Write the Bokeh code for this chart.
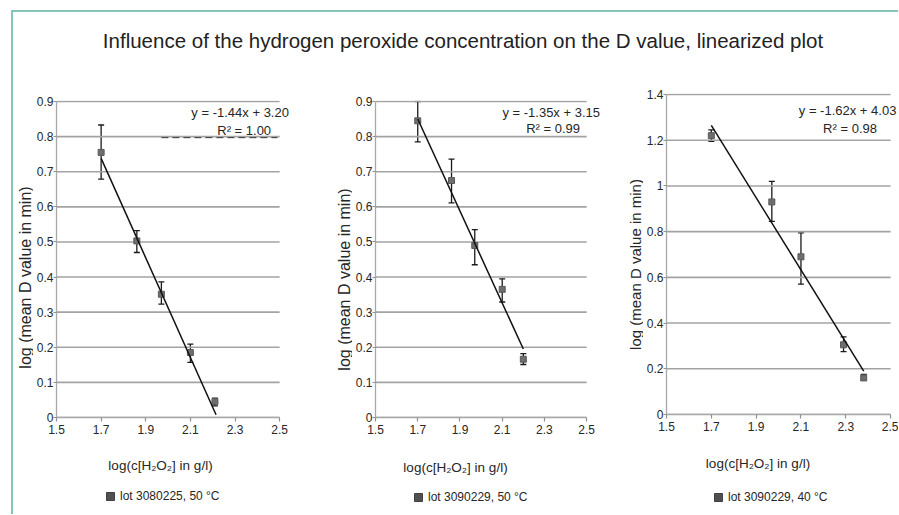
import math
from bokeh.plotting import figure
from bokeh.models import (Range1d, FixedTicker, Whisker, TeeHead, ColumnDataSource,
                          Legend, LegendItem, Label, Spacer)
from bokeh.layouts import row, column
from bokeh.embed import file_html
from bokeh.resources import INLINE

TITLE = "Influence of the hydrogen peroxide concentration on the D value, linearized plot"
X_LABEL = "log(c[H\u2082O\u2082] in g/l)"
Y_LABEL = "log (mean D value in min)"
X_TICKS = [1.5, 1.7, 1.9, 2.1, 2.3, 2.5]
Y_TICKS_A = [0, 0.1, 0.2, 0.3, 0.4, 0.5, 0.6, 0.7, 0.8, 0.9]
Y_TICKS_B = [0, 0.2, 0.4, 0.6, 0.8, 1.0, 1.2, 1.4]

# panel 1: lot 3080225, 50 °C
lot1_name = "lot 3080225, 50 \u00b0C"
lot1_x = [1.70, 1.86, 1.97, 2.10, 2.21]
lot1_y = [0.755, 0.503, 0.351, 0.185, 0.045]
lot1_lo = [0.679, 0.470, 0.323, 0.157, 0.033]
lot1_hi = [0.833, 0.532, 0.386, 0.209, 0.055]
lot1_fit_x = [1.70, 2.215]
lot1_fit_y = [0.738, 0.008]
lot1_eq = "y = -1.44x + 3.20"
lot1_r2 = "R\u00b2 = 1.00"

# panel 2: lot 3090229, 50 °C
lot2_name = "lot 3090229, 50 \u00b0C"
lot2_x = [1.70, 1.86, 1.97, 2.10, 2.20]
lot2_y = [0.845, 0.675, 0.490, 0.365, 0.166]
lot2_lo = [0.785, 0.611, 0.435, 0.329, 0.151]
lot2_hi = [0.900, 0.736, 0.535, 0.395, 0.182]
lot2_fit_x = [1.70, 2.20]
lot2_fit_y = [0.850, 0.195]
lot2_eq = "y = -1.35x + 3.15"
lot2_r2 = "R\u00b2 = 0.99"

# panel 3: lot 3090229, 40 °C
lot3_name = "lot 3090229, 40 \u00b0C"
lot3_x = [1.70, 1.97, 2.10, 2.29, 2.38]
lot3_y = [1.220, 0.930, 0.690, 0.305, 0.160]
lot3_lo = [1.195, 0.845, 0.570, 0.275, 0.150]
lot3_hi = [1.245, 1.020, 0.795, 0.340, 0.175]
lot3_fit_x = [1.70, 2.38]
lot3_fit_y = [1.265, 0.190]
lot3_eq = "y = -1.62x + 4.03"
lot3_r2 = "R\u00b2 = 0.98"

FONT = "Liberation Sans"
TXT = "#262626"
GRID = "#a3a3a3"
TEAL = "#84c7ba"
ROW_H = 377


def blank(width, height):
    f = figure(width=width, height=height, x_range=Range1d(0, 1), y_range=Range1d(0, 1),
               output_backend="svg", toolbar_location=None, min_border=0,
               x_axis_location=None, y_axis_location=None)
    f.outline_line_color = None
    f.xgrid.visible = False
    f.ygrid.visible = False
    return f


def make_main(xs, ys, lo, hi, fx, fy, y_end, y_ticks, eq, r2, eq_pos, r2_pos,
              bl, w1, extra, br, bt, h1, bb):
    px_y = h1 / y_end
    p = figure(width=bl + w1 + extra + br, height=bt + h1 + 1 + bb,
               x_range=Range1d(X_TICKS[0], X_TICKS[-1] + extra / w1),
               y_range=Range1d(0, y_end + 1 / px_y),
               output_backend="svg", toolbar_location=None,
               min_border_left=bl, min_border_right=br, min_border_top=bt,
               min_border_bottom=bb)
    p.outline_line_color = None
    p.xgrid.visible = False
    p.ygrid.visible = False

    # horizontal grid lines, limited to the axis extent
    p.segment(x0=[X_TICKS[0]] * len(y_ticks), x1=[X_TICKS[-1]] * len(y_ticks),
              y0=y_ticks, y1=y_ticks, line_color=GRID, line_width=1.6)

    for ax in (p.xaxis[0], p.yaxis[0]):
        ax.axis_line_color = "#a8a8a8"
        ax.axis_line_width = 1.3
        ax.major_tick_line_color = "#909090"
        ax.major_tick_line_width = 1.2
        ax.minor_tick_line_color = None
        ax.major_tick_in = 0
        ax.major_label_text_font = FONT
        ax.major_label_text_font_size = "12px"
        ax.major_label_text_color = TXT

    xa = p.xaxis[0]
    xa.ticker = FixedTicker(ticks=X_TICKS)
    xa.bounds = (X_TICKS[0], X_TICKS[-1])
    xa.major_tick_out = 4
    xa.major_label_standoff = 3

    ya = p.yaxis[0]
    ya.ticker = FixedTicker(ticks=y_ticks)
    ya.bounds = (0, y_end)
    ya.major_tick_out = 3
    ya.major_label_standoff = 0
    ya.major_label_overrides = {0: "0"}

    src = ColumnDataSource(dict(x=xs, y=ys, lo=lo, hi=hi))
    p.scatter("x", "y", source=src, marker="square", size=6,
              fill_color="#6e6e6e", line_color="#5a5a5a")
    wh = Whisker(base="x", upper="hi", lower="lo", source=src, dimension="height",
                 line_color="#1a1a1a", line_width=1.3,
                 upper_head=TeeHead(size=6, line_color="#1a1a1a", line_width=1.3),
                 lower_head=TeeHead(size=6, line_color="#1a1a1a", line_width=1.3))
    p.add_layout(wh)
    p.line(fx, fy, line_color="#111111", line_width=1.5)

    for t, pos in ((eq, eq_pos), (r2, r2_pos)):
        p.add_layout(Label(x=pos[0], y=pos[1], text=t, text_align="center",
                           text_baseline="middle", text_font=FONT,
                           text_font_size="13px", text_color=TXT))
    return p


def make_strip(width, sx, sy, size):
    s = blank(width, ROW_H)
    s.add_layout(Label(x=sx, y=sy, x_units="screen", y_units="screen", text=Y_LABEL,
                       angle=math.pi / 2, text_align="center", text_baseline="middle",
                       text_font=FONT, text_font_size=size, text_color=TXT))
    return s


p1 = make_main(lot1_x, lot1_y, lot1_lo, lot1_hi, lot1_fit_x, lot1_fit_y, 0.9, Y_TICKS_A,
               lot1_eq, lot1_r2, (2.323, 0.869), (2.341, 0.817),
               bl=20, w1=226, extra=12, br=17, bt=32, h1=316, bb=28)
p1.line([1.97, 2.49], [0.797, 0.797], line_color="#333333", line_width=1,
        line_dash="7 4")
p2 = make_main(lot2_x, lot2_y, lot2_lo, lot2_hi, lot2_fit_x, lot2_fit_y, 0.9, Y_TICKS_A,
               lot2_eq, lot2_r2, (2.332, 0.869), (2.341, 0.823),
               bl=20, w1=214, extra=14, br=8, bt=32, h1=316, bb=28)
p3 = make_main(lot3_x, lot3_y, lot3_lo, lot3_hi, lot3_fit_x, lot3_fit_y, 1.4, Y_TICKS_B,
               lot3_eq, lot3_r2, (2.308, 1.33), (2.319, 1.251),
               bl=20, w1=227, extra=8, br=0, bt=25, h1=320, bb=31)

s1 = make_strip(20, 11.5, 140, "16px")
s2 = make_strip(44, 35.5, 138, "16px")
s3 = make_strip(35, 26.5, 150, "15px")

# title strip
title_fig = blank(885, 56)
title_fig.add_layout(Label(x=449.5, y=28, x_units="screen", y_units="screen", text=TITLE,
                           text_align="center", text_baseline="middle", text_font=FONT,
                           text_font_size="20.5px", text_color="#222222"))

# bottom strip: x-axis titles and legends
bottom = blank(885, 69)
for lx, ly in ((147, 49), (442, 47), (744.5, 51)):
    bottom.add_layout(Label(x=lx, y=ly, x_units="screen", y_units="screen", text=X_LABEL,
                            text_align="center", text_baseline="middle", text_font=FONT,
                            text_font_size="13.5px", text_color=TXT))
lots = ((lot1_name, lot1_x, lot1_y, (87, 8)),
        (lot2_name, lot2_x, lot2_y, (395, 7)),
        (lot3_name, lot3_x, lot3_y, (695, 7)))
for name, lx, ly, loc in lots:
    # key glyph for the legend (its data lie outside this strip's range)
    key = bottom.scatter(lx, ly, marker="square", fill_color="#505050",
                         line_color="#404040")
    bottom.add_layout(Legend(items=[LegendItem(label=name, renderers=[key])],
                             location=loc, orientation="horizontal",
                             border_line_color=None, background_fill_alpha=0,
                             margin=0, padding=0, glyph_width=20, glyph_height=20,
                             label_standoff=-2, label_text_font=FONT,
                             label_text_font_size="12px", label_text_color=TXT))

inner = column(title_fig, row(row(s1, p1), row(s2, p2), row(s3, p3)), bottom,
               styles={"border-left": "2px solid " + TEAL,
                       "border-top": "2px solid " + TEAL})
page = column(Spacer(height=10), row(Spacer(width=11), inner))

open("out.html", "w").write(file_html(page, INLINE))
